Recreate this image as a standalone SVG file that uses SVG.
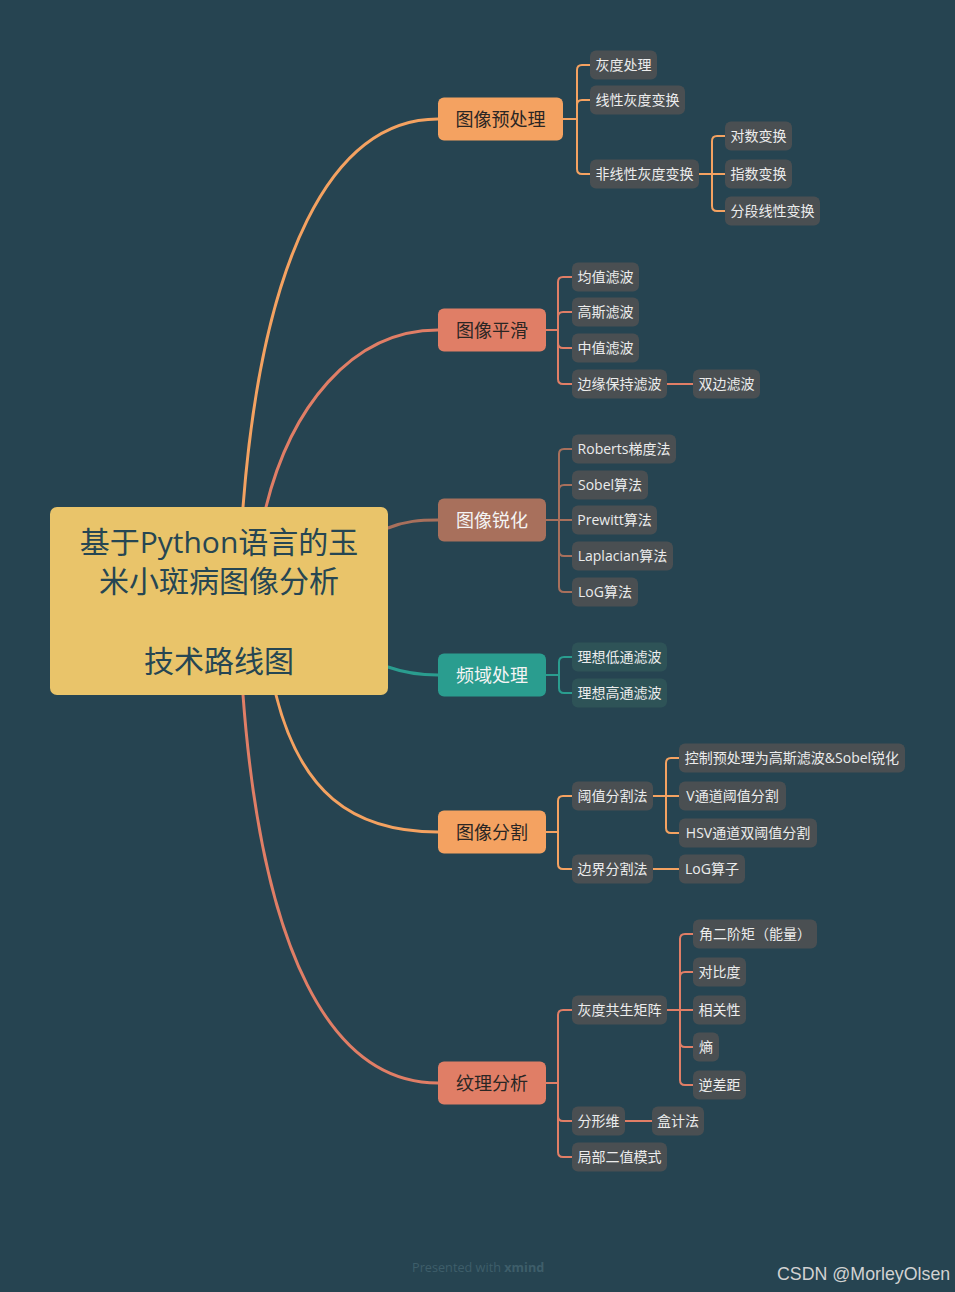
<svg xmlns="http://www.w3.org/2000/svg" width="955" height="1292" viewBox="0 0 955 1292">
<style>
.bg{fill:#264451}
.sub{fill:#4a4f52}
.subt{fill:#2e5357}
.st{font-family:"Open Sans","Noto Sans CJK SC",sans-serif;font-size:14px;fill:#ececec;text-anchor:middle}
.mt{font-family:"Open Sans","Noto Sans CJK SC",sans-serif;font-size:18px;text-anchor:middle}
.dark{fill:#2a2624}
.light{fill:#f4f4f4}
.ct{font-family:"Open Sans","Noto Sans CJK SC",sans-serif;font-size:30px;fill:#264653;text-anchor:middle}
.c{fill:none;stroke-linecap:round;stroke-linejoin:round}
.main{stroke-width:3}
.br{stroke-width:2}
.or{stroke:#f4a261}
.sa{stroke:#e07e66}
.bn{stroke:#a8705c}
.te{stroke:#2a9d8f}
</style>
<rect class="bg" x="0" y="0" width="955" height="1292"/>

<g id="connectors">
  <path class="c main or" d="M243 507 C262 260 330 119 438 119"/>
  <path class="c main sa" d="M266 507 C290 410 350 330 438 330"/>
  <path class="c main bn" d="M388 528 C405 521 420 520 438 520"/>
  <path class="c main te" d="M388 667 C405 673 420 675 438 675"/>
  <path class="c main or" d="M276 695 C300 790 350 832 438 832"/>
  <path class="c main sa" d="M243 695 C262 950 330 1083 438 1083"/>

  <g class="c br or">
    <path d="M563 119 H577"/>
    <path d="M577 119 V70 Q577 65 582 65 H590"/>
    <path d="M577 119 V105 Q577 100 582 100 H590"/>
    <path d="M577 119 V169 Q577 174 582 174 H590"/>
    <path d="M699 174 H725"/>
    <path d="M712 174 V141 Q712 136 717 136 H725"/>
    <path d="M712 174 V206 Q712 211 717 211 H725"/>
  </g>
  <g class="c br sa">
    <path d="M546 330 H558"/>
    <path d="M558 330 V282 Q558 277 563 277 H572"/>
    <path d="M558 330 V317 Q558 312 563 312 H572"/>
    <path d="M558 330 V343 Q558 348 563 348 H572"/>
    <path d="M558 330 V379 Q558 384 563 384 H572"/>
    <path d="M667 384 H693"/>
  </g>
  <g class="c br bn">
    <path d="M546 520 H572"/>
    <path d="M559 520 V454 Q559 449 564 449 H572"/>
    <path d="M559 520 V490 Q559 485 564 485 H572"/>
    <path d="M559 520 V551 Q559 556 564 556 H572"/>
    <path d="M559 520 V587 Q559 592 564 592 H572"/>
  </g>
  <g class="c br te">
    <path d="M546 675 H559"/>
    <path d="M559 675 V662 Q559 657 564 657 H572"/>
    <path d="M559 675 V688 Q559 693 564 693 H572"/>
  </g>
  <g class="c br or">
    <path d="M546 832 H558"/>
    <path d="M558 832 V801 Q558 796 563 796 H572"/>
    <path d="M558 832 V864 Q558 869 563 869 H572"/>
    <path d="M653 796 H679"/>
    <path d="M666 796 V763 Q666 758 671 758 H679"/>
    <path d="M666 796 V828 Q666 833 671 833 H679"/>
    <path d="M653 869 H679"/>
  </g>
  <g class="c br sa">
    <path d="M546 1083 H558"/>
    <path d="M558 1083 V1015 Q558 1010 563 1010 H572"/>
    <path d="M558 1083 V1116 Q558 1121 563 1121 H572"/>
    <path d="M558 1083 V1152 Q558 1157 563 1157 H572"/>
    <path d="M625 1121 H652"/>
    <path d="M667 1010 H693"/>
    <path d="M680 1010 V939 Q680 934 685 934 H693"/>
    <path d="M680 1010 V977 Q680 972 685 972 H693"/>
    <path d="M680 1010 V1042 Q680 1047 685 1047 H693"/>
    <path d="M680 1010 V1080 Q680 1085 685 1085 H693"/>
  </g>
</g>

<g id="center">
  <rect x="50" y="507" width="338" height="188" rx="7" fill="#e9c46a"/>
  <text class="ct" x="219" y="553">基于Python语言的玉</text>
  <text class="ct" x="219" y="592">米小斑病图像分析</text>
  <text class="ct" x="219" y="672">技术路线图</text>
</g>

<g id="n-preprocess">
  <rect x="438" y="97.5" width="125" height="43" rx="6" fill="#f4a261"/>
  <text class="mt dark" x="500.5" y="126">图像预处理</text>
</g>
<g id="n-smooth">
  <rect x="438" y="308.5" width="108" height="43" rx="6" fill="#e07e66"/>
  <text class="mt dark" x="492" y="337">图像平滑</text>
</g>
<g id="n-sharpen">
  <rect x="438" y="498.5" width="108" height="43" rx="6" fill="#a8705c"/>
  <text class="mt light" x="492" y="527">图像锐化</text>
</g>
<g id="n-freq">
  <rect x="438" y="653.5" width="108" height="43" rx="6" fill="#2a9d8f"/>
  <text class="mt light" x="492" y="682">频域处理</text>
</g>
<g id="n-seg">
  <rect x="438" y="810.5" width="108" height="43" rx="6" fill="#f4a261"/>
  <text class="mt dark" x="492" y="839">图像分割</text>
</g>
<g id="n-texture">
  <rect x="438" y="1061.5" width="108" height="43" rx="6" fill="#e07e66"/>
  <text class="mt dark" x="492" y="1090">纹理分析</text>
</g>

<!-- branch 1 children -->
<g id="s1"><rect class="sub" x="590" y="50.5" width="67" height="29" rx="6"/><text class="st" x="623.5" y="70">灰度处理</text></g>
<g id="s2"><rect class="sub" x="590" y="85.5" width="95" height="29" rx="6"/><text class="st" x="637.5" y="105">线性灰度变换</text></g>
<g id="s3"><rect class="sub" x="590" y="159.5" width="109" height="29" rx="6"/><text class="st" x="644.5" y="179">非线性灰度变换</text></g>
<g id="s4"><rect class="sub" x="725" y="121.5" width="67" height="29" rx="6"/><text class="st" x="758.5" y="141">对数变换</text></g>
<g id="s5"><rect class="sub" x="725" y="159.5" width="67" height="29" rx="6"/><text class="st" x="758.5" y="179">指数变换</text></g>
<g id="s6"><rect class="sub" x="725" y="196.5" width="95" height="29" rx="6"/><text class="st" x="772.5" y="216">分段线性变换</text></g>

<!-- branch 2 -->
<g id="s7"><rect class="sub" x="572" y="262.5" width="67" height="29" rx="6"/><text class="st" x="605.5" y="282">均值滤波</text></g>
<g id="s8"><rect class="sub" x="572" y="297.5" width="67" height="29" rx="6"/><text class="st" x="605.5" y="317">高斯滤波</text></g>
<g id="s9"><rect class="sub" x="572" y="333.5" width="67" height="29" rx="6"/><text class="st" x="605.5" y="353">中值滤波</text></g>
<g id="s10"><rect class="sub" x="572" y="369.5" width="95" height="29" rx="6"/><text class="st" x="619.5" y="389">边缘保持滤波</text></g>
<g id="s11"><rect class="sub" x="693" y="369.5" width="67" height="29" rx="6"/><text class="st" x="726.5" y="389">双边滤波</text></g>

<!-- branch 3 -->
<g id="s12"><rect class="sub" x="572" y="434.5" width="104" height="29" rx="6"/><text class="st" x="624" y="454">Roberts梯度法</text></g>
<g id="s13"><rect class="sub" x="572" y="470.5" width="76" height="29" rx="6"/><text class="st" x="610" y="490">Sobel算法</text></g>
<g id="s14"><rect class="sub" x="572" y="505.5" width="85" height="29" rx="6"/><text class="st" x="614.5" y="525">Prewitt算法</text></g>
<g id="s15"><rect class="sub" x="572" y="541.5" width="101" height="29" rx="6"/><text class="st" x="622.5" y="561">Laplacian算法</text></g>
<g id="s16"><rect class="sub" x="572" y="577.5" width="66" height="29" rx="6"/><text class="st" x="605" y="597">LoG算法</text></g>

<!-- branch 4 -->
<g id="s17"><rect class="subt" x="572" y="642.5" width="95" height="29" rx="6"/><text class="st" x="619.5" y="662">理想低通滤波</text></g>
<g id="s18"><rect class="subt" x="572" y="678.5" width="95" height="29" rx="6"/><text class="st" x="619.5" y="698">理想高通滤波</text></g>

<!-- branch 5 -->
<g id="s19"><rect class="sub" x="572" y="781.5" width="81" height="29" rx="6"/><text class="st" x="612.5" y="801">阈值分割法</text></g>
<g id="s20"><rect class="sub" x="572" y="854.5" width="81" height="29" rx="6"/><text class="st" x="612.5" y="874">边界分割法</text></g>
<g id="s21"><rect class="sub" x="679" y="743.5" width="226" height="29" rx="6"/><text class="st" x="792" y="763">控制预处理为高斯滤波&amp;Sobel锐化</text></g>
<g id="s22"><rect class="sub" x="679" y="781.5" width="107" height="29" rx="6"/><text class="st" x="732.5" y="801">V通道阈值分割</text></g>
<g id="s23"><rect class="sub" x="679" y="818.5" width="138" height="29" rx="6"/><text class="st" x="748" y="838">HSV通道双阈值分割</text></g>
<g id="s24"><rect class="sub" x="679" y="854.5" width="66" height="29" rx="6"/><text class="st" x="712" y="874">LoG算子</text></g>

<!-- branch 6 -->
<g id="s25"><rect class="sub" x="572" y="995.5" width="95" height="29" rx="6"/><text class="st" x="619.5" y="1015">灰度共生矩阵</text></g>
<g id="s26"><rect class="sub" x="572" y="1106.5" width="53" height="29" rx="6"/><text class="st" x="598.5" y="1126">分形维</text></g>
<g id="s27"><rect class="sub" x="572" y="1142.5" width="95" height="29" rx="6"/><text class="st" x="619.5" y="1162">局部二值模式</text></g>
<g id="s28"><rect class="sub" x="652" y="1106.5" width="52" height="29" rx="6"/><text class="st" x="678" y="1126">盒计法</text></g>
<g id="s29"><rect class="sub" x="693" y="919.5" width="124" height="29" rx="6"/><text class="st" x="755" y="939">角二阶矩（能量）</text></g>
<g id="s30"><rect class="sub" x="693" y="957.5" width="53" height="29" rx="6"/><text class="st" x="719.5" y="977">对比度</text></g>
<g id="s31"><rect class="sub" x="693" y="995.5" width="53" height="29" rx="6"/><text class="st" x="719.5" y="1015">相关性</text></g>
<g id="s32"><rect class="sub" x="693" y="1032.5" width="26" height="29" rx="6"/><text class="st" x="706" y="1052">熵</text></g>
<g id="s33"><rect class="sub" x="693" y="1070.5" width="53" height="29" rx="6"/><text class="st" x="719.5" y="1090">逆差距</text></g>

<g id="footer">
  <text x="412" y="1272" font-family="Open Sans, sans-serif" font-size="12.7" fill="#3e5e6a">Presented with <tspan font-weight="bold">xmind</tspan></text>
  <text x="777" y="1280" font-family="Liberation Sans, Arial, sans-serif" font-size="17.8" fill="#d2d2d2">CSDN @MorleyOlsen</text>
</g>
</svg>
